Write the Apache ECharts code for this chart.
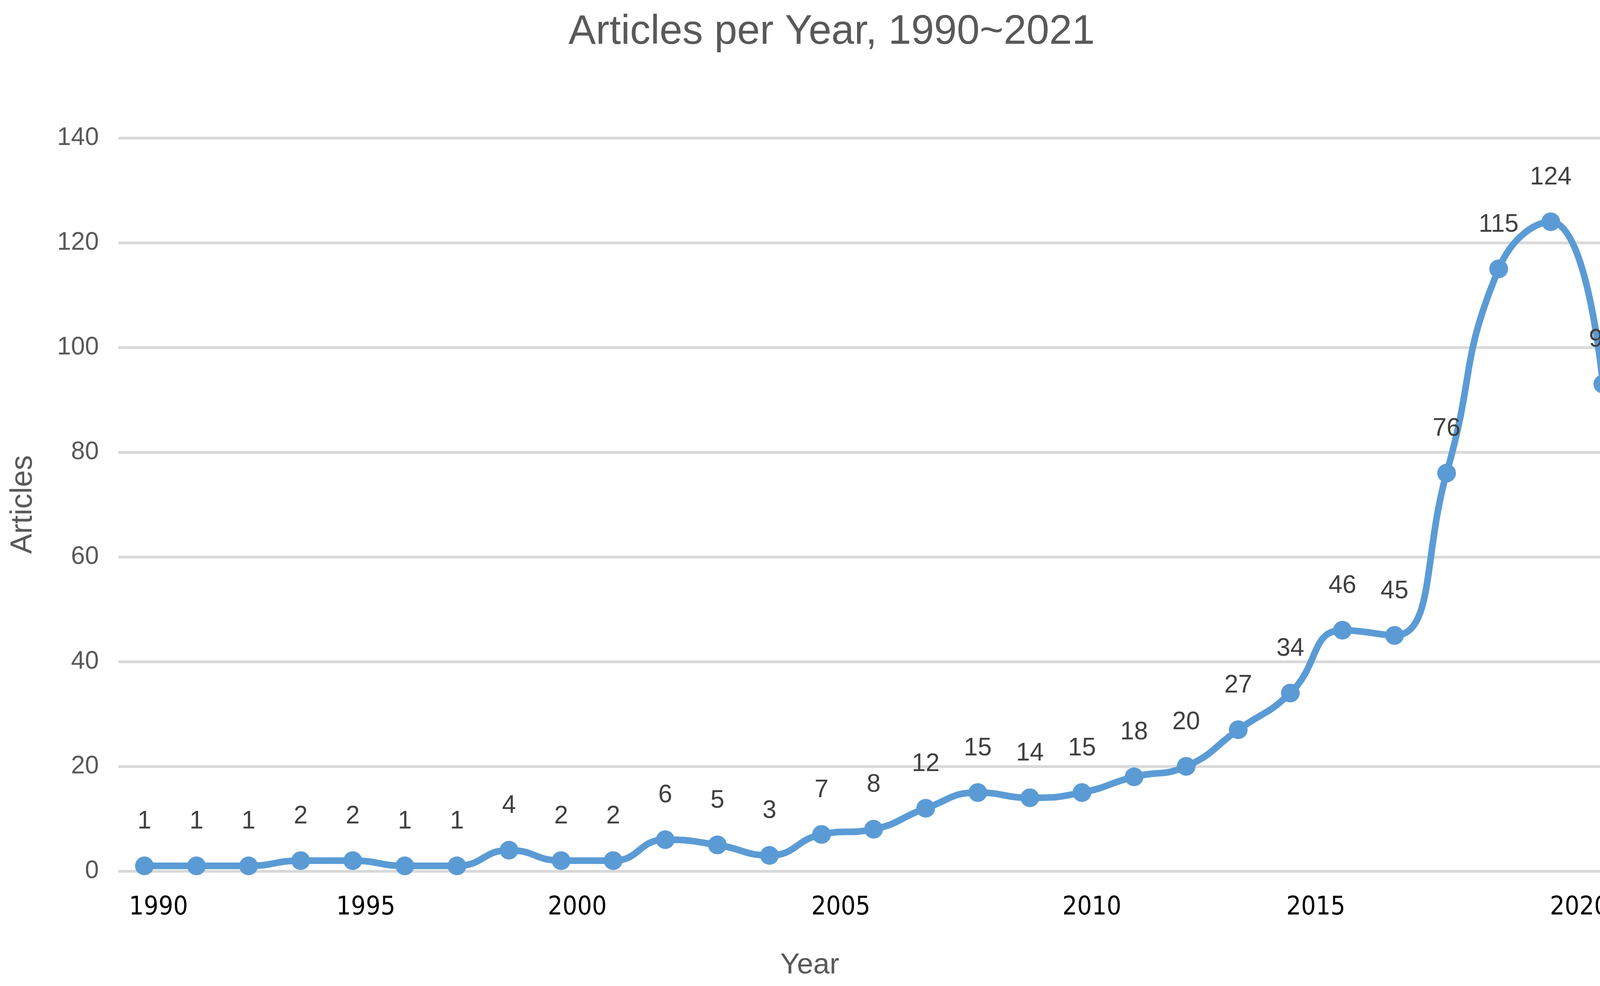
<!DOCTYPE html>
<html>
<head>
<meta charset="utf-8">
<script src="https://cdn.jsdelivr.net/npm/echarts@6/dist/echarts.min.js"></script>
<style>
html,body{margin:0;padding:0;background:#fff;overflow:hidden;}
#c{width:4227px;height:2523px;}
</style>
</head>
<body>
<div id="c"></div>
<script>
// Data
const articles = [1,1,1,2,2,1,1,4,2,2,6,5,3,7,8,12,15,14,15,18,20,27,34,46,45,76,115,124,93];
const pointIndex = articles.map((v, i) => String(i));
// Year tick labels and where they sit along the point index scale
const yearLabels = ['1990','1995','2000','2005','2010','2015','2020'];
const yearLabelPositions = [0.27, 4.25, 8.31, 13.37, 18.19, 22.49, 27.55];
const yTicks = {min: 0, max: 140, interval: 20};

const chart = echarts.init(document.getElementById('c'));
const sans = '"Liberation Sans", Arial, sans-serif';
const narrow = '"Liberation Sans Narrow", "DejaVu Sans Condensed", "Liberation Sans", sans-serif';

chart.setOption({
  backgroundColor: '#ffffff',
  animation: false,
  title: [
    {
      text: 'Articles per Year, 1990~2021',
      left: 2124,
      textAlign: 'center',
      top: 26,
      textStyle: {fontFamily: sans, fontSize: 105, fontWeight: 'normal', color: '#595959'}
    },
    {
      text: 'Year',
      left: 2068,
      top: 2428,
      textAlign: 'center',
      textStyle: {fontFamily: sans, fontSize: 75, fontWeight: 'normal', color: '#595959'}
    }
  ],
  grid: {left: 303, right: 57, top: 353, bottom: 294, containLabel: false},
  xAxis: [
    {
      type: 'category',
      data: pointIndex,
      boundaryGap: true,
      axisLine: {show: false},
      axisTick: {show: false},
      axisLabel: {show: false},
      splitLine: {show: false}
    },
    {
      type: 'value',
      position: 'bottom',
      min: -0.5,
      max: pointIndex.length - 0.5,
      axisLine: {show: false},
      axisTick: {show: false},
      splitLine: {show: false},
      axisLabel: {
        customValues: yearLabelPositions,
        formatter: function (val) {
          let best = 0;
          yearLabelPositions.forEach((p, i) => { if (Math.abs(p - val) < Math.abs(yearLabelPositions[best] - val)) best = i; });
          return yearLabels[best];
        },
        margin: 61,
        fontFamily: narrow,
        fontSize: 66,
        color: '#000000'
      }
    }
  ],
  yAxis: {
    type: 'value',
    min: yTicks.min,
    max: yTicks.max,
    interval: yTicks.interval,
    name: 'Articles',
    nameLocation: 'middle',
    nameGap: 205,
    nameRotate: 90,
    nameTextStyle: {fontFamily: sans, fontSize: 77, color: '#595959'},
    axisLine: {show: false},
    axisTick: {show: false},
    axisLabel: {fontFamily: sans, fontSize: 64, color: '#595959', margin: 50},
    splitLine: {lineStyle: {color: '#d9d9d9', width: 7}}
  },
  series: [{
    type: 'line',
    xAxisIndex: 0,
    data: articles,
    smooth: 0.5,
    symbol: 'circle',
    symbolSize: 48,
    lineStyle: {color: '#5b9bd5', width: 17},
    itemStyle: {color: '#5b9bd5'},
    label: {
      show: true,
      position: 'top',
      distance: 57,
      fontFamily: sans,
      fontSize: 64,
      color: '#404040'
    }
  }]
});
</script>
</body>
</html>
